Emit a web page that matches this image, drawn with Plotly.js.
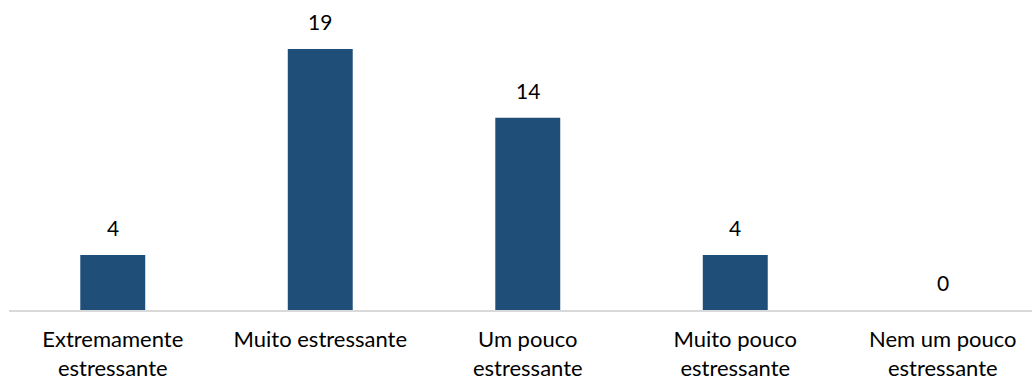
<!DOCTYPE html>
<html>
<head>
<meta charset="utf-8">
<script src="https://cdn.plot.ly/plotly-3.0.1.min.js"></script>
<style>html,body{margin:0;padding:0;background:#fff;}#chart{width:1032px;height:381px;}</style>
</head>
<body>
<div id="chart"></div>
<script>
const categories = ["Extremamente<br>estressante", "Muito estressante", "Um pouco<br>estressante", "Muito pouco<br>estressante", "Nem um pouco<br>estressante"];
const values = [4, 19, 14, 4, 0];

const barColor = "#1F4E79";
const fontFamily = "Lato, 'Open Sans', sans-serif";

const trace = {
  type: "bar",
  x: categories,
  y: values,
  marker: {color: barColor},
  hoverinfo: "none"
};

const annotations = categories.map((c, i) => ({
  x: c, y: values[i], xref: "x", yref: "y",
  text: String(values[i]), showarrow: false,
  yanchor: "bottom", yshift: 13,
  font: {family: fontFamily, size: 21, color: "#000"}
}));

const layout = {
  width: 1032, height: 381,
  margin: {l: 9, r: 0, t: 0, b: 71},
  paper_bgcolor: "#fff", plot_bgcolor: "#fff",
  bargap: 0.687,
  showlegend: false,
  xaxis: {
    range: [-0.5, 4.43],
    showline: true, linecolor: "#D9D9D9", linewidth: 2,
    showgrid: false, zeroline: false, ticks: "",
    tickfont: {family: fontFamily, size: 22, color: "#000"},
    ticklabelstandoff: 9
  },
  yaxis: {
    range: [0, 22.57],
    visible: false, showgrid: false, zeroline: false
  },
  annotations: annotations
};

Plotly.newPlot("chart", [trace], layout, {staticPlot: true, displayModeBar: false});
</script>
</body>
</html>
